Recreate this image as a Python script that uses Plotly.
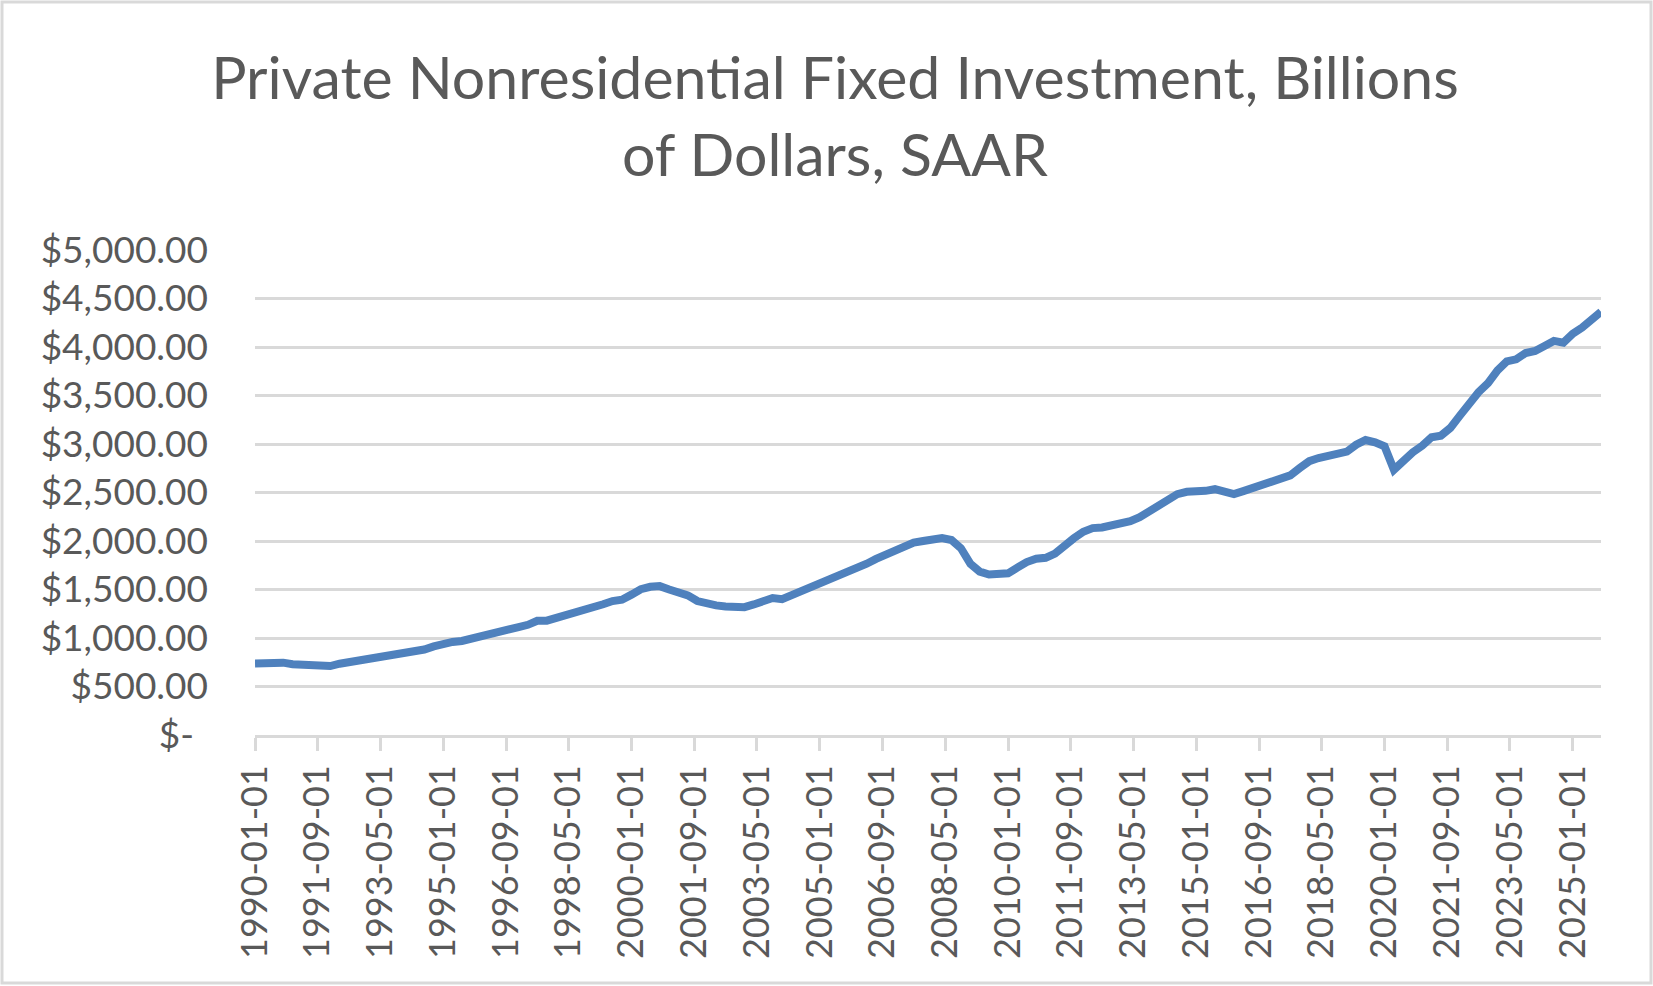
import pandas as pd
import plotly.graph_objects as go

# Quarterly values, billions of dollars (SAAR), 1990Q1 .. 2025Q4
values_1990s = [738, 742, 754, 746,   730, 725, 718, 712,   711, 735, 752, 770,
                784, 795, 806, 835,   847, 858, 881, 913,   947, 959, 969, 990,
                1010, 1034, 1068, 1093,   1112, 1136, 1177, 1179,
                1204, 1245, 1255, 1289,   1310, 1348, 1381, 1395]
values_2000s = [1447, 1503, 1528, 1535,   1500, 1465, 1440, 1381,
                1353, 1336, 1325, 1318,   1318, 1346, 1381, 1412,
                1400, 1440, 1486, 1528,   1570, 1598, 1633, 1668,
                1720, 1766, 1815, 1853,   1895, 1948, 1983, 2000,
                2018, 2030, 2010, 1925,   1765, 1685, 1655, 1660]
values_2010s = [1667, 1725, 1783, 1817,   1827, 1871, 1963, 2028,
                2096, 2133, 2140, 2160,   2191, 2204, 2245, 2306,
                2347, 2412, 2483, 2507,   2507, 2517, 2534, 2500,
                2483, 2514, 2548, 2572,   2602, 2646, 2677, 2752,
                2823, 2855, 2875, 2892,   2921, 2993, 3041, 3017]
values_2020s = [2976, 2734, 2834, 2914,   2983, 3069, 3086, 3166,
                3293, 3424, 3534, 3628,   3759, 3852, 3873, 3938,
                3959, 4011, 4063, 4045,   4138, 4200, 4294, 4363]

values = values_1990s + values_2000s + values_2010s + values_2020s
dates = pd.date_range("1990-01-01", periods=len(values), freq="QS")

x_tick_labels = ["1990-01-01", "1991-09-01", "1993-05-01", "1995-01-01", "1996-09-01",
                 "1998-05-01", "2000-01-01", "2001-09-01", "2003-05-01", "2005-01-01",
                 "2006-09-01", "2008-05-01", "2010-01-01", "2011-09-01", "2013-05-01",
                 "2015-01-01", "2016-09-01", "2018-05-01", "2020-01-01", "2021-09-01",
                 "2023-05-01", "2025-01-01"]
y_tick_vals = [0, 500, 1000, 1500, 2000, 2500, 3000, 3500, 4000, 4500, 5000]
y_tick_text = ["$-\u00a0\u2009"] + [f"${v:,.2f}" for v in y_tick_vals[1:]]

title_text = "Private Nonresidential Fixed Investment, Billions<br>of Dollars, SAAR"

W, H = 1653, 986
ML, MR, MT, MB = 255, 52, 250, 251
PW, PH = W - ML - MR, H - MT - MB

TEXT = "#595959"
GRID = "#D9D9D9"
FONT = "Lato"

fig = go.Figure()
fig.add_trace(go.Scatter(
    x=dates, y=values, mode="lines",
    line=dict(color="#4F81BD", width=8, shape="linear"),
    hoverinfo="x+y", showlegend=False,
))

fig.update_layout(
    width=W, height=H,
    margin=dict(l=ML, r=MR, t=MT, b=MB),
    paper_bgcolor="white", plot_bgcolor="white",
    title=dict(text=title_text, x=835 / W, xanchor="center", xref="container",
               y=1 - 99 / H, yanchor="top", yref="container",
               font=dict(family=FONT, size=59, color=TEXT)),
    xaxis=dict(
        type="date", range=[dates[0], dates[-1]],
        tickmode="array", tickvals=x_tick_labels, ticktext=x_tick_labels,
        tickangle=-90, tickfont=dict(family=FONT, size=36, color=TEXT),
        showgrid=False, zeroline=False,
        showline=True, linecolor=GRID, linewidth=2.5,
        ticks="outside", ticklen=13, tickwidth=2.5, tickcolor=GRID,
        ticklabelstandoff=0,
    ),
    yaxis=dict(
        range=[0, 5000], tickmode="array", tickvals=y_tick_vals, ticktext=y_tick_text,
        tickfont=dict(family=FONT, size=37, color=TEXT),
        showgrid=True, gridcolor=GRID, gridwidth=2.5,
        zeroline=False, showline=False, ticks="",
        ticklabelstandoff=46,
    ),
    shapes=[dict(
        type="rect", xref="paper", yref="paper",
        x0=(2 - ML) / PW, x1=(W - 2 - ML) / PW,
        y0=(3 - MB) / PH, y1=(H - 2 - MB) / PH,
        line=dict(color=GRID, width=3), fillcolor="rgba(0,0,0,0)", layer="below",
    )],
)

fig.write_html("out.html")
